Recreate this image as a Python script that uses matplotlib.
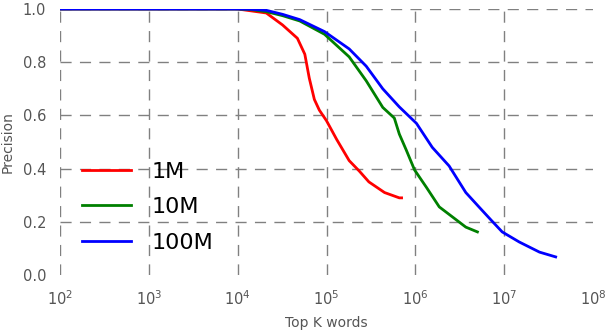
import matplotlib
matplotlib.use("Agg")
import matplotlib.pyplot as plt

# top K words vs precision
k_1m = [1e2, 1e4, 2.1e4, 3.2e4, 4.7e4, 5.7e4, 6.4e4, 7.3e4, 8.3e4, 1.0e5,
        1.3e5, 1.8e5, 2.35e5, 3.0e5, 4.5e5, 6.6e5, 7.0e5]
p_1m = [1.0, 1.0, 0.985, 0.94, 0.89, 0.83, 0.74, 0.66, 0.62, 0.58,
        0.51, 0.43, 0.39, 0.35, 0.31, 0.29, 0.29]

k_10m = [1e2, 1e4, 1.4e4, 2.1e4, 3.2e4, 5e4, 9.5e4, 1.8e5, 2.8e5, 4.3e5,
         5.8e5, 6.6e5, 7.9e5, 9.8e5, 1.33e6, 1.86e6, 2.9e6, 3.7e6, 5e6]
p_10m = [1.0, 1.0, 0.998, 0.99, 0.975, 0.955, 0.905, 0.82, 0.73, 0.63,
         0.59, 0.53, 0.47, 0.395, 0.33, 0.256, 0.207, 0.18, 0.162]

k_100m = [1e2, 1e4, 1.4e4, 2.1e4, 3.2e4, 5e4, 9.5e4, 1.8e5, 2.8e5, 4.3e5,
          6.6e5, 1.03e6, 1.55e6, 2.4e6, 3.7e6, 5.2e6, 7.1e6, 9.5e6, 1.48e7,
          2.5e7, 3.8e7]
p_100m = [1.0, 1.0, 0.999, 0.995, 0.98, 0.96, 0.915, 0.85, 0.785, 0.70,
          0.632, 0.57, 0.48, 0.41, 0.31, 0.256, 0.207, 0.162, 0.124,
          0.086, 0.068]

x_ticks = [1e2, 1e3, 1e4, 1e5, 1e6, 1e7, 1e8]
y_ticks = [0.0, 0.2, 0.4, 0.6, 0.8, 1.0]

fig = plt.figure(figsize=(6.06, 3.32), dpi=100)
ax = fig.add_axes([60 / 606, 57 / 332, 533 / 606, 266 / 332])

ax.plot(k_1m, p_1m, color="red", lw=2, label="1M")
ax.plot(k_10m, p_10m, color="green", lw=2, label="10M")
ax.plot(k_100m, p_100m, color="blue", lw=2, label="100M")

ax.set_xscale("log")
ax.set_xlim(1e2, 1e8)
ax.set_ylim(0, 1)
ax.set_xticks(x_ticks)
ax.set_yticks(y_ticks)
ax.set_yticklabels([f"{v:.1f}" for v in y_ticks])

for s in ax.spines.values():
    s.set_visible(False)
ax.minorticks_off()
ax.tick_params(length=0, pad=10, labelsize=10.5, colors="#555555")
ax.grid(True, color="#808080", lw=1, linestyle=(0, (8, 6)))
# bottom and right grid lines are not shown in the original
ax.get_xgridlines()[-1].set_visible(False)
ax.get_ygridlines()[0].set_visible(False)

ax.set_xlabel("Top K words", fontsize=10, color="#555555", labelpad=6)
ax.set_ylabel("Precision", fontsize=10, color="#555555", labelpad=6)

ax.legend(loc="lower left", frameon=False, fontsize=16, handlelength=2.2,
          handletextpad=0.9, borderaxespad=0.6, labelspacing=0.7)

fig.savefig("out.png", dpi=100)
